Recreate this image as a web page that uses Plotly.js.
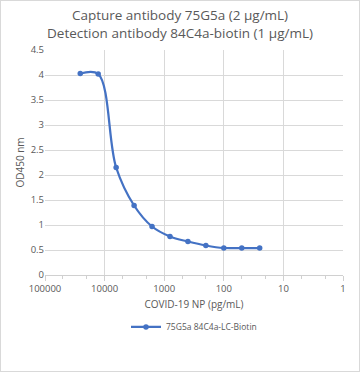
<!DOCTYPE html>
<html>
<head>
<meta charset="utf-8">
<script src="https://cdn.plot.ly/plotly-3.0.1.min.js"></script>
<style>
html,body{margin:0;padding:0;background:#fff;}
#wrap{position:relative;width:360px;height:372px;}
#chart{width:360px;height:372px;}
#frame{position:absolute;left:0;top:0;width:358px;height:370px;border:1px solid #d9d9d9;pointer-events:none;}
</style>
</head>
<body>
<div id="wrap"><div id="chart"></div><div id="frame"></div></div>
<script>
const concentrations = [25600, 12800, 6400, 3200, 1600, 800, 400, 200, 100, 50, 25];
const od450 = [4.03, 4.02, 2.15, 1.39, 0.97, 0.77, 0.67, 0.59, 0.54, 0.54, 0.54];
const seriesName = '75G5a 84C4a-LC-Biotin';
const xTickVals = [100000, 10000, 1000, 100, 10, 1];
const xTickText = ['100000', '10000', '1000', '100', '10', '1'];
const yTickVals = [0, 0.5, 1, 1.5, 2, 2.5, 3, 3.5, 4, 4.5];
const yTickText = ['0', '0.5', '1', '1.5', '2', '2.5', '3', '3.5', '4', '4.5'];

const font = '"Open Sans", Calibri, "Liberation Sans", sans-serif';
const blue = '#4472C4';

const trace = {
  x: concentrations,
  y: od450,
  name: seriesName,
  type: 'scatter',
  mode: 'lines+markers',
  line: {color: blue, width: 2.25, shape: 'spline', smoothing: 1},
  marker: {color: blue, size: 5.5},
  showlegend: true
};

const layout = {
  width: 360,
  height: 372,
  margin: {l: 45, r: 17, t: 50, b: 97},
  paper_bgcolor: '#fff',
  plot_bgcolor: '#fff',
  font: {family: font, color: '#595959', size: 10},
  title: {
    text: 'Capture antibody 75G5a (2 μg/mL)<br>Detection antibody 84C4a-biotin (1 μg/mL)',
    font: {family: font, size: 13.5, color: '#595959'},
    x: 0.5, xanchor: 'center', y: 0.945, yanchor: 'middle'
  },
  xaxis: {
    type: 'log',
    range: [5, 0],
    tickvals: xTickVals,
    ticktext: xTickText,
    showgrid: true,
    gridcolor: '#d9d9d9',
    gridwidth: 1,
    showline: true,
    linecolor: '#d0d0d0',
    linewidth: 1,
    ticks: 'outside',
    ticklen: 5,
    tickcolor: '#d0d0d0',
    minor: {ticks: 'outside', ticklen: 3, tickcolor: '#d0d0d0', showgrid: false},
    tickfont: {size: 9.5, color: '#595959', family: font},
    zeroline: false,
    title: {text: 'COVID-19 NP (pg/mL)', font: {size: 10, color: '#595959', family: font}, standoff: 6}
  },
  yaxis: {
    range: [0, 4.5],
    tickvals: yTickVals,
    ticktext: yTickText,
    showgrid: true,
    gridcolor: '#d9d9d9',
    gridwidth: 1,
    showline: false,
    zeroline: false,
    ticks: '',
    tickfont: {size: 9.5, color: '#595959', family: font},
    title: {text: 'OD450 nm', font: {size: 10, color: '#595959', family: font}, standoff: 4}
  },
  showlegend: true,
  legend: {
    orientation: 'h',
    x: 0.5, xanchor: 'center',
    y: -0.231, yanchor: 'middle',
    font: {size: 8.5, color: '#595959', family: font},
    bgcolor: 'rgba(0,0,0,0)'
  }
};

Plotly.newPlot('chart', [trace], layout, {displayModeBar: false, staticPlot: true});
</script>
</body>
</html>
